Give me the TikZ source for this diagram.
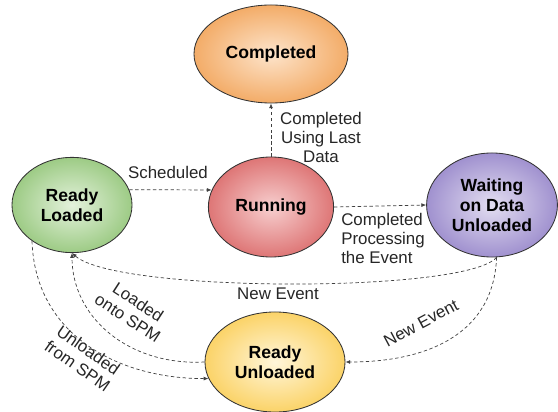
\documentclass[tikz,border=0pt]{standalone}
\usepackage{fontspec}
\setmainfont{Liberation Sans}
\usetikzlibrary{shapes.geometric,arrows.meta}
\definecolor{compIn}{HTML}{FDE4CB}
\definecolor{compOut}{HTML}{F3AC68}
\definecolor{loadIn}{HTML}{E4F2DC}
\definecolor{loadOut}{HTML}{9DCB85}
\definecolor{runIn}{HTML}{F7CFCF}
\definecolor{runOut}{HTML}{DE7676}
\definecolor{waitIn}{HTML}{E3DEF1}
\definecolor{waitOut}{HTML}{A091CF}
\definecolor{unlIn}{HTML}{FFF6DA}
\definecolor{unlOut}{HTML}{FBD368}
\tikzset{
  state/.style={draw=black!80,ellipse,line width=0.6pt,inner sep=0pt,align=center,
    font=\bfseries\fontsize{12.5}{14.2}\selectfont},
  trans/.style={draw=black!75,dash pattern=on 2.4pt off 1.8pt,line width=0.5pt,
    -{Latex[length=3.4pt,width=2.8pt]}},
  lbl/.style={font=\fontsize{12}{13.5}\selectfont,text=black!85,inner sep=0pt},
}
\begin{document}
\begin{tikzpicture}[x=0.025cm,y=-0.025cm]
\useasboundingbox (0,0) rectangle (558,412);
% states
\node[state,inner color=compIn,outer color=compOut,minimum width=3.85cm,minimum height=2.45cm] (COMP) at (271,54) {Completed};
\node[state,inner color=loadIn,outer color=loadOut,minimum width=3cm,minimum height=2.38cm] (RL) at (72,205) {Ready\\Loaded};
\node[state,inner color=runIn,outer color=runOut,minimum width=3.13cm,minimum height=2.5cm] (RUN) at (271,207) {Running};
\node[state,inner color=waitIn,outer color=waitOut,minimum width=3.27cm,minimum height=2.6cm] (WAIT) at (492,205) {Waiting\\on Data\\Unloaded};
\node[state,inner color=unlIn,outer color=unlOut,minimum width=3.5cm,minimum height=2.5cm] (RU) at (275,362) {Ready\\Unloaded};
% transitions
\draw[trans] (RL.15) -- (RUN.164);
\draw[trans] (RUN.north) -- (COMP.south);
\draw[trans] (RUN.east) -- (WAIT.west);
\draw[trans] (WAIT.-85) .. controls +(-30,36) and +(45,40) .. (RL.south);
\draw[trans] (WAIT.-85) .. controls +(-3,78) and +(80,0) .. (RU.east);
\draw[trans] (RU.west) .. controls +(-75,4) and +(0,65) .. (RL.south);
\draw[trans] (RL.222) .. controls +(3,92) and +(-93,0) .. (RU.194);
% labels
\node[lbl] (lSched) at (168,172) {Scheduled};
\node[lbl,align=center] (lLast) at (321,137) {Completed\\Using Last\\Data};
\node[lbl,align=left] (lProc) at (383,238) {Completed\\Processing\\the Event};
\node[lbl] (lNew) at (278,294) {New Event};
\node[lbl,rotate=28] (lNew2) at (421,323) {New Event};
\node[lbl,align=center,rotate=-33] (lOnto) at (133,310) {Loaded\\onto SPM};
\node[lbl,align=center,rotate=-35] (lFrom) at (83,358) {Unloaded\\from SPM};
\end{tikzpicture}
\end{document}
